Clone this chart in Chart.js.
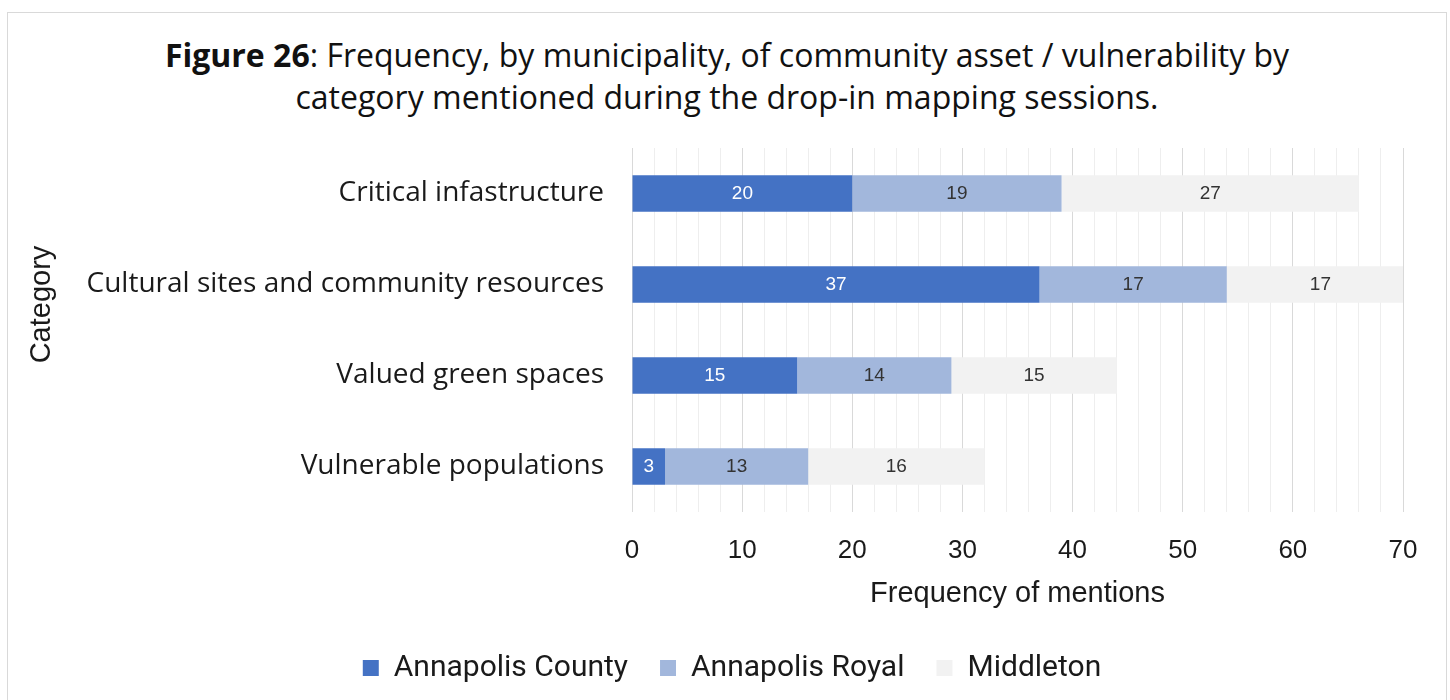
<!DOCTYPE html>
<html>
<head>
<meta charset="utf-8">
<title>Figure 26</title>
<script src="https://cdn.jsdelivr.net/npm/chart.js@4.4.1/dist/chart.umd.min.js"></script>
<style>
  html, body { margin: 0; padding: 0; background: #fff; overflow: hidden; }
  #frame { position: absolute; left: 7px; top: 12px; width: 1440px; height: 740px; border: 1px solid #d9d9d9; box-sizing: border-box; }
  #caption { position: absolute; left: 7px; top: 34px; width: 1440px; text-align: center; font: 32px/42px "Open Sans", sans-serif; color: #111; }
  #caption b { font-weight: 700; }
  #wrap { position: absolute; left: 0; top: 0; width: 1450px; height: 700px; }
</style>
</head>
<body>
<div id="frame"></div>
<div id="caption"><b>Figure 26</b>: Frequency, by municipality, of community asset / vulnerability by<br>category mentioned during the drop-in mapping sessions.</div>
<div id="wrap"><canvas id="chartMentions" width="1450" height="700"></canvas></div>
<script>
// categories and counts per municipality
const categories = ["Critical infastructure", "Cultural sites and community resources", "Valued green spaces", "Vulnerable populations"];
const annapolisCounty = [20, 37, 15, 3];
const annapolisRoyal = [19, 17, 14, 13];
const middleton = [27, 17, 15, 16];
const seriesNames = ["Annapolis County", "Annapolis Royal", "Middleton"];
const seriesColors = ["#4472C4", "#A2B7DC", "#F2F2F2"];

// x axis: labelled every 10, light grid every 2
const xMax = 70;
const xLabelStep = 10;
const xGridStep = 2;

const TEXT = "#1a1a1a";
const ARIAL = '"Liberation Sans", Arial, sans-serif';

// value printed in the middle of each bar segment
const barValueLabels = {
  id: "barValueLabels",
  afterDatasetsDraw(chart) {
    const { ctx } = chart;
    ctx.save();
    ctx.font = "19px " + ARIAL;
    ctx.textAlign = "center";
    ctx.textBaseline = "middle";
    chart.data.datasets.forEach((ds, i) => {
      chart.getDatasetMeta(i).data.forEach((bar, j) => {
        const c = bar.getCenterPoint();
        ctx.fillStyle = i === 0 ? "#ffffff" : "#333333";
        ctx.fillText(String(ds.data[j]), c.x, c.y);
      });
    });
    ctx.restore();
  },
};

// vertical "Category" caption, sits a little above the middle of the plot
const categoryAxisTitle = {
  id: "categoryAxisTitle",
  afterDraw(chart) {
    const { ctx, chartArea } = chart;
    ctx.save();
    ctx.translate(42, chartArea.top + (chartArea.bottom - chartArea.top) * 0.43);
    ctx.rotate(-Math.PI / 2);
    ctx.font = "29px " + ARIAL;
    ctx.fillStyle = TEXT;
    ctx.textAlign = "center";
    ctx.textBaseline = "middle";
    ctx.fillText("Category", 0, 0);
    ctx.restore();
  },
};

const seriesData = [annapolisCounty, annapolisRoyal, middleton];

new Chart(document.getElementById("chartMentions"), {
  type: "bar",
  data: {
    labels: categories,
    datasets: seriesNames.map((name, i) => ({
      label: name,
      data: seriesData[i],
      backgroundColor: seriesColors[i],
      borderWidth: 0,
      barPercentage: 0.4,
      categoryPercentage: 1,
    })),
  },
  options: {
    indexAxis: "y",
    responsive: false,
    animation: false,
    layout: { padding: { top: 148, right: 47, bottom: 7, left: 61 } },
    plugins: {
      tooltip: { enabled: false },
      legend: {
        position: "bottom",
        labels: { boxWidth: 16, boxHeight: 16, padding: 32, color: TEXT, font: { family: "Roboto", size: 30 } },
      },
    },
    scales: {
      x: {
        stacked: true,
        min: 0,
        max: xMax,
        border: { display: false },
        grid: {
          drawTicks: false,
          color: (c) => (c.tick && c.tick.value % xLabelStep === 0 ? "#d9d9d9" : "#eeeeee"),
        },
        ticks: {
          stepSize: xGridStep,
          autoSkip: false,
          maxRotation: 0,
          padding: 23,
          color: TEXT,
          font: { family: ARIAL, size: 26 },
          callback: (v) => (v % xLabelStep === 0 ? v : ""),
        },
        title: { display: true, text: "Frequency of mentions", color: TEXT, font: { family: ARIAL, size: 29 }, padding: { top: 0, bottom: 10 } },
        afterFit(scale) { scale.height = 109; },
      },
      y: {
        stacked: true,
        border: { display: false },
        grid: { display: false, drawTicks: false },
        ticks: { padding: 28, color: TEXT, font: { family: '"Open Sans"', size: 28 } },
        afterFit(scale) { scale.width = 571; },
      },
    },
  },
  plugins: [barValueLabels, categoryAxisTitle],
});
</script>
</body>
</html>
